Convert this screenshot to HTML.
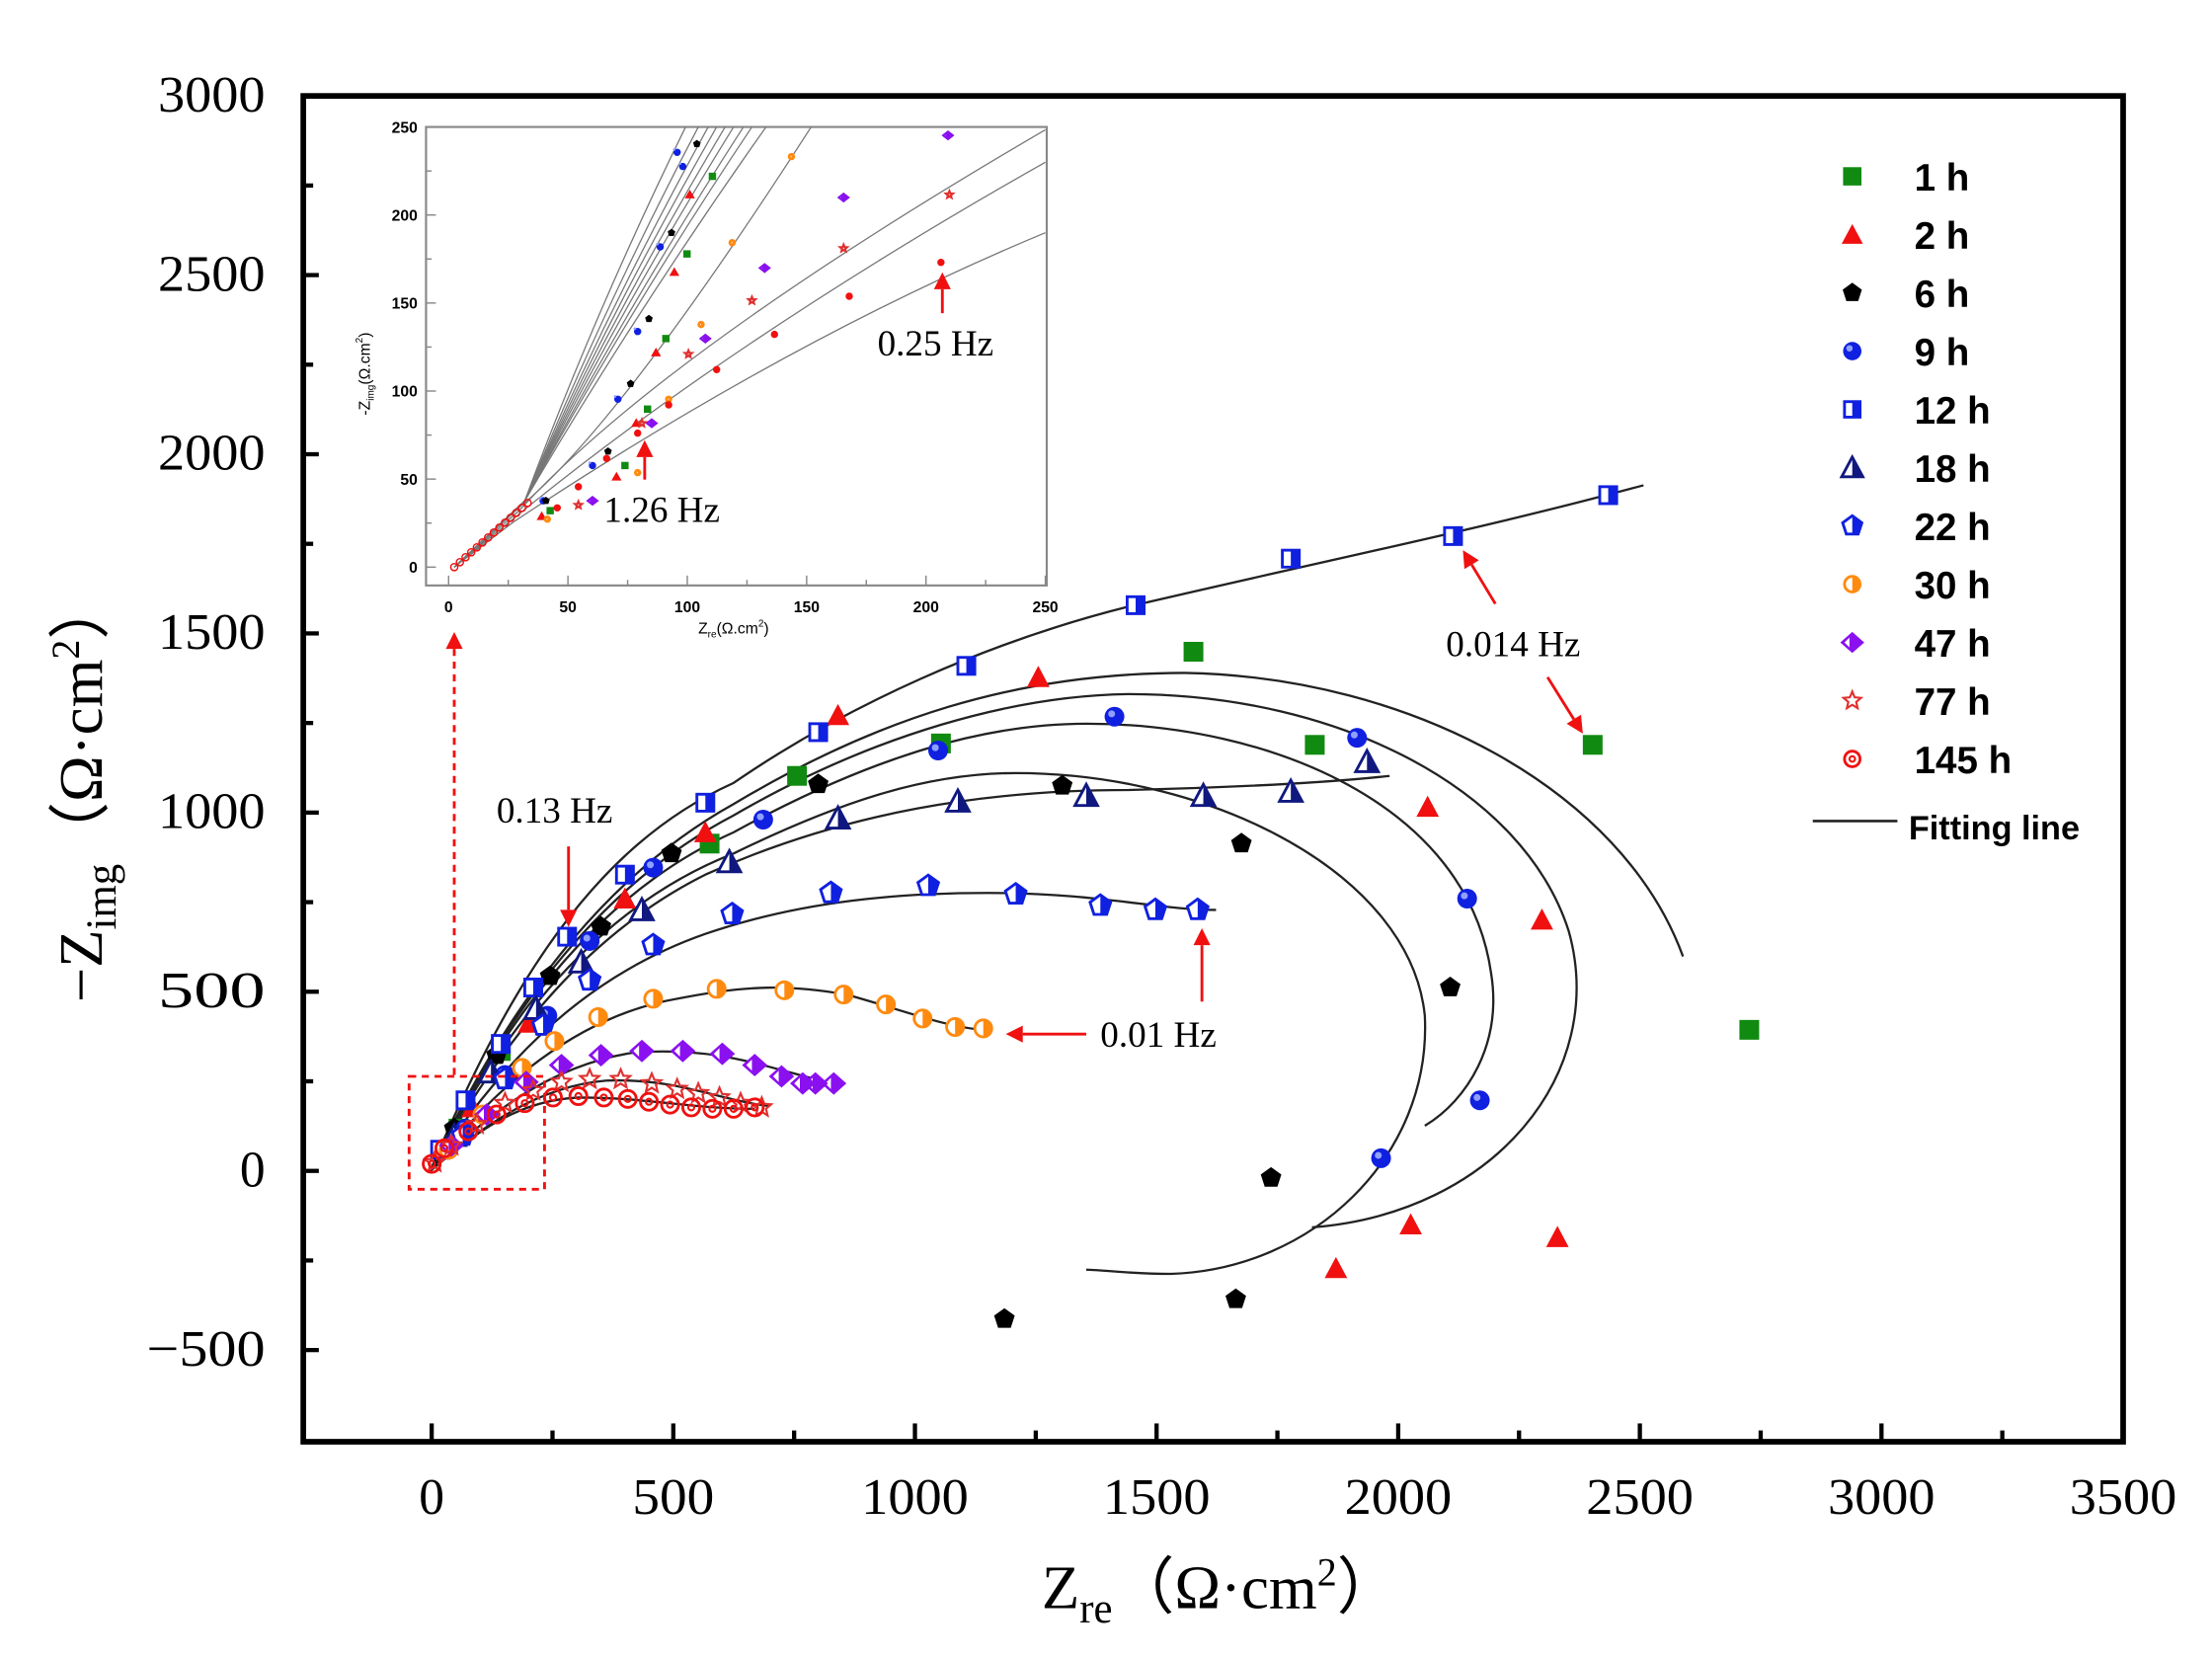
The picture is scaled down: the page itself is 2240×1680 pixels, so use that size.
<!DOCTYPE html>
<html><head><meta charset="utf-8"><style>
html,body{margin:0;padding:0;background:#fff;}
svg{display:block;}
</style></head><body>
<svg id="s" width="2240" height="1680" viewBox="0 0 1568 1176" xmlns="http://www.w3.org/2000/svg">
<rect x="0" y="0" width="1568" height="1176" fill="#fff"/>
<g id="g"></g>
</svg>
<script>
const g=document.getElementById('g');
let out='';
function add(s){out+=s;}
add('<rect x="215" y="68" width="1290" height="954" fill="none" stroke="#000" stroke-width="4"/>');
for(let v=-500;v<=3000;v+=250){const y=830-v*0.254;const L=(v%500==0)?11:7;add(`<line x1="215" y1="${y}" x2="${215+L}" y2="${y}" stroke="#000" stroke-width="3"/>`);}
for(let v=-500;v<=3000;v+=500){const y=830-v*0.254;add(`<text x="188" y="${y+11}" font-family="Liberation Serif, serif" font-size="36" text-anchor="end" textLength="${v==0?18:(v<0?84:76)}" lengthAdjust="spacingAndGlyphs">${v<0?'\u2212500':v}</text>`);}
for(let v=0;v<=3250;v+=250){const x=306+v*0.34257;const L=(v%500==0)?13:8;add(`<line x1="${x}" y1="1022" x2="${x}" y2="${1022-L}" stroke="#000" stroke-width="3"/>`);}
for(let v=0;v<=3500;v+=500){const x=306+v*0.34257;const tl=v==0?18:(v<1000?58:76);add(`<text x="${x-tl/2}" y="1073" font-family="Liberation Serif, serif" font-size="36" textLength="${tl}" lengthAdjust="spacingAndGlyphs">${v}</text>`);}
add('<text x="865" y="1140" font-family="Liberation Serif, serif" font-size="44" text-anchor="middle">Z<tspan font-size="30" dy="10">re</tspan><tspan dy="-10">（Ω·cm</tspan><tspan font-size="28" dy="-16">2</tspan><tspan dy="16">）</tspan></text>');
add('<text transform="translate(72,560) rotate(-90)" font-family="Liberation Serif, serif" font-size="44" text-anchor="middle">−Z<tspan font-size="30" dy="10">img</tspan><tspan dy="-10">（Ω·cm</tspan><tspan font-size="28" dy="-16">2</tspan><tspan dy="16">）</tspan></text>');

function mk(type,x,y,s){
 s=s||7;
 switch(type){
 case 'sq': return `<rect x="${x-s}" y="${y-s}" width="${2*s}" height="${2*s}" fill="#118a11"/>`;
 case 'tri': return `<polygon points="${x},${y-s-1} ${x-s-1},${y+s} ${x+s+1},${y+s}" fill="#f01010"/>`;
 case 'pent': {let p=[];for(let i=0;i<5;i++){const a=-Math.PI/2+i*2*Math.PI/5;p.push((x+s*1.1*Math.cos(a)).toFixed(1)+','+(y+s*1.1*Math.sin(a)).toFixed(1));}return `<polygon points="${p.join(' ')}" fill="#000"/>`;}
 case 'sph': return `<circle cx="${x}" cy="${y}" r="${s}" fill="#1020e0"/><circle cx="${x-2}" cy="${y-2}" r="${s*0.35}" fill="#8fa0ff"/>`;
 case 'hsq': return `<rect x="${x-s+1}" y="${y-s+1}" width="${2*s-2}" height="${2*s-2}" fill="#fff" stroke="#1020e0" stroke-width="2"/><rect x="${x}" y="${y-s+1}" width="${s-1}" height="${2*s-2}" fill="#1020e0"/>`;
 case 'htri': return `<polygon points="${x},${y-s-1} ${x-s-1},${y+s} ${x+s+1},${y+s}" fill="#fff" stroke="#101880" stroke-width="2"/><polygon points="${x},${y-s-1} ${x},${y+s} ${x+s+1},${y+s}" fill="#101880"/>`;
 case 'hpent': {let p=[];for(let i=0;i<5;i++){const a=-Math.PI/2+i*2*Math.PI/5;p.push((x+s*1.1*Math.cos(a)).toFixed(1)+','+(y+s*1.1*Math.sin(a)).toFixed(1));}return `<polygon points="${p.join(' ')}" fill="#fff" stroke="#1020e0" stroke-width="2"/><path d="M${x},${y-s*1.1} L${x+s*1.05},${y-s*0.34} L${x+s*0.65},${y+s*0.9} L${x},${y+s*0.9}Z" fill="#1020e0"/>`;}
 case 'hcirc': return `<circle cx="${x}" cy="${y}" r="${s-1}" fill="#fff" stroke="#ff8a10" stroke-width="2"/><path d="M${x},${y-s+1} A${s-1},${s-1} 0 0 1 ${x},${y+s-1}Z" fill="#ff8a10"/>`;
 case 'dia': return `<polygon points="${x},${y-s-1} ${x+s+2},${y} ${x},${y+s+1} ${x-s-2},${y}" fill="#8a10f0"/><polygon points="${x-2},${y-s+3} ${x-2},${y+s-3} ${x-s+1},${y}" fill="#fff"/>`;
 case 'star': {let p=[];for(let i=0;i<10;i++){const a=-Math.PI/2+i*Math.PI/5;const r=i%2?s*0.45:s;p.push((x+r*Math.cos(a)).toFixed(1)+','+(y+r*Math.sin(a)).toFixed(1));}return `<polygon points="${p.join(' ')}" fill="none" stroke="#e03030" stroke-width="1.5"/>`;}
 case 'ocirc': return `<circle cx="${x}" cy="${y}" r="${s-1}" fill="none" stroke="#f01010" stroke-width="2"/><circle cx="${x}" cy="${y}" r="${s*0.3}" fill="none" stroke="#f01010" stroke-width="1.5"/>`;
 }
}
function curve(d,w,c){add(`<path d="${d}" fill="none" stroke="${c||'#222'}" stroke-width="${w||1.6}"/>`);}
curve('M305,830 C360,700 420,600 520,555 C600,500 700,455 800,430 C950,395 1050,375 1165,344');
curve('M305,830 C360,710 430,620 520,570 C620,510 720,477 840,477 C1000,480 1150,560 1193,678');
curve('M305,830 C360,712 430,625 520,578 C620,520 720,493 800,492 C950,492 1080,560 1112,660 C1140,760 1060,860 930,870');
curve('M305,830 C360,715 430,630 520,590 C620,535 700,513 770,513 C900,513 1040,570 1057,690 C1065,740 1040,780 1010,798');
curve('M305,830 C360,720 430,640 520,605 C600,566 660,548 720,548 C860,548 1000,620 1010,720 C1015,820 930,900 830,903 C800,903 780,900 770,900');
curve('M305,830 C360,730 420,660 500,620 C600,575 700,560 800,560 C880,558 940,555 985,550');
curve('M305,830 C360,745 420,690 500,662 C570,638 640,633 700,633 C780,633 820,645 862,645');
curve('M305,830 C350,770 410,720 480,708 C530,698 560,698 600,705 C640,716 670,728 697,730');
curve('M305,830 C345,790 390,755 450,746 C510,742 540,756 590,768');
curve('M305,830 C340,800 380,770 430,766 C480,764 510,780 545,784');
curve('M305,830 C335,805 365,780 410,778 C460,778 490,786 535,786');

const S={
sq:[[565,550],[503,598],[667,527],[846,462],[932,528],[1129,528],[1240,730],[355,745],[325,800]],
tri:[[594,507],[736,480],[1012,572],[1093,652],[1104,877],[1000,868],[947,899],[500,590],[443,637],[375,725],[335,785]],
pent:[[580,556],[476,605],[426,657],[753,557],[880,598],[1028,700],[901,835],[876,921],[712,935],[390,692],[352,748],[322,800]],
sph:[[665,532],[790,508],[962,523],[1040,637],[1049,780],[979,821],[541,581],[463,615],[418,667],[388,720],[358,762],[330,800]],
hsq:[[1140,351],[1030,380],[915,396],[805,429],[685,472],[580,519],[500,569],[443,620],[402,664],[378,700],[355,740],[330,780],[312,815]],
htri:[[969,540],[915,561],[853,564],[770,564],[679,568],[594,580],[517,611],[455,645],[412,682],[380,715],[348,760],[322,805]],
hpent:[[849,645],[819,645],[780,642],[720,634],[658,628],[589,633],[519,648],[463,670],[418,695],[385,727],[358,765],[328,805]],
hcirc:[[697,729],[677,728],[654,722],[628,712],[598,705],[556,702],[508,701],[463,708],[424,721],[393,738],[370,757],[342,790],[318,815]],
dia:[[591,768],[578,768],[569,768],[554,763],[535,755],[512,747],[484,745],[455,745],[426,748],[398,755],[373,767],[345,790],[320,812]],
star:[[540,785],[525,782],[510,778],[495,775],[480,772],[462,768],[440,765],[418,765],[398,767],[378,773],[358,782],[338,797],[320,812],[308,824]],
ocirc:[[535,785],[520,786],[505,786],[490,785],[475,783],[460,781],[445,779],[428,778],[410,777],[392,778],[372,782],[352,790],[332,802],[315,814],[306,825]]
};
for(const k in S){for(const p of S[k]) add(mk(k,p[0],p[1]));}

add('<rect x="302" y="90" width="440" height="325" fill="#fff" stroke="#888" stroke-width="1.5"/>');
function ix(v){return 318+v*1.692;} function iy(v){return 402-v*1.248;}
for(let v=0;v<=250;v+=50){add(`<text x="${ix(v)}" y="434" font-family="Liberation Sans, sans-serif" font-weight="bold" font-size="11" text-anchor="middle">${v}</text>`);add(`<text x="296" y="${iy(v)+4}" font-family="Liberation Sans, sans-serif" font-weight="bold" font-size="11" text-anchor="end">${v}</text>`);}
for(let v=0;v<=250;v+=25){add(`<line x1="${ix(v)}" y1="415" x2="${ix(v)}" y2="${v%50?411:408}" stroke="#888"/>`);add(`<line x1="302" y1="${iy(v)}" x2="${v%50?306:309}" y2="${iy(v)}" stroke="#888"/>`);}
add('<text x="520" y="449" font-family="Liberation Sans, sans-serif" font-size="11" text-anchor="middle">Z<tspan font-size="7" dy="3">re</tspan><tspan dy="-3">(Ω.cm</tspan><tspan font-size="7" dy="-5">2</tspan><tspan dy="5">)</tspan></text>');
add('<text transform="translate(262,265) rotate(-90)" font-family="Liberation Sans, sans-serif" font-size="11" text-anchor="middle">-Z<tspan font-size="7" dy="3">img</tspan><tspan dy="-3">(Ω.cm</tspan><tspan font-size="7" dy="-5">2</tspan><tspan dy="5">)</tspan></text>');
const tops=[[486,90],[495,90],[502,90],[508,90],[514,90],[520,90],[527,90],[533,90],[543,90]];
for(const t of tops) curve(`M322,402 L372,355 Q${(372+t[0])/2-8},${(355+t[1])/2} ${t[0]},${t[1]}`,0.9,'#777');
curve('M322,402 L370,358 Q440,300 575,90',0.9,'#777');
curve('M322,402 L368,362 Q470,250 741,92',0.9,'#777');
curve('M322,402 L366,366 Q520,240 741,115',0.9,'#777');
curve('M322,402 L364,370 Q560,240 741,165',0.9,'#777');
const ipts=[['sph',[[480,108],[484,118],[468,175],[452,235],[438,283],[420,330],[385,355]]],['pent',[[494,102],[476,165],[460,226],[447,272],[431,320],[387,355]]],
['sq',[[505,125],[487,180],[472,240],[459,290],[443,330],[390,362]]],['tri',[[489,138],[478,193],[465,250],[451,300],[437,338],[384,366]]],
['hcirc',[[561,111],[519,172],[497,230],[474,283],[452,335],[388,368]]],['dia',[[672,96],[598,140],[542,190],[500,240],[462,300],[420,355]]],
['star',[[673,138],[598,176],[533,213],[488,251],[455,300],[410,358]]],['ocirc',[[667,186],[602,210],[549,237],[508,262],[474,287],[452,307],[430,325],[410,345],[395,360]]]];
for(const [k,arr] of ipts){for(const p of arr) add(mk(k,p[0],p[1],2.6));}
for(let i=0;i<14;i++){const x=322+i*4,y=402-i*3.5;add(`<circle cx="${x}" cy="${y}" r="2.5" fill="none" stroke="#f01010" stroke-width="1"/>`);}
function arrow(x1,y1,x2,y2,w,dash){const a=Math.atan2(y2-y1,x2-x1);const L=12,W=6;const bx=x2-L*Math.cos(a),by=y2-L*Math.sin(a);
 add(`<line x1="${x1}" y1="${y1}" x2="${bx}" y2="${by}" stroke="#f01010" stroke-width="${w||2}" ${dash?'stroke-dasharray="5,4"':''}/>`);
 add(`<polygon points="${x2},${y2} ${bx+W*Math.sin(a)},${by-W*Math.cos(a)} ${bx-W*Math.sin(a)},${by+W*Math.cos(a)}" fill="#f01010"/>`);}
arrow(457,340,457,312);arrow(668,222,668,193);
add('<text x="428" y="370" font-family="Liberation Serif, serif" font-size="26">1.26 Hz</text>');
add('<text x="622" y="252" font-family="Liberation Serif, serif" font-size="26">0.25 Hz</text>');
add('<rect x="290" y="763" width="96" height="80" fill="none" stroke="#f01010" stroke-width="2" stroke-dasharray="5,4"/>');
arrow(322,762,322,448,2,true);
arrow(403,600,403,657);
arrow(770,733,713,733);
arrow(852,710,852,658);
arrow(1097,480,1122,520);
arrow(1060,428,1037,390);
add('<text x="352" y="583" font-family="Liberation Serif, serif" font-size="26">0.13 Hz</text>');
add('<text x="780" y="742" font-family="Liberation Serif, serif" font-size="26">0.01 Hz</text>');
add('<text x="1025" y="465" font-family="Liberation Serif, serif" font-size="26">0.014 Hz</text>');
const leg=[['sq','1 h'],['tri','2 h'],['pent','6 h'],['sph','9 h'],['hsq','12 h'],['htri','18 h'],['hpent','22 h'],['hcirc','30 h'],['dia','47 h'],['star','77 h'],['ocirc','145 h']];
leg.forEach((l,i)=>{const y=125+i*41.3;add(mk(l[0],1313,y,6.5));add(`<text x="1357" y="${y+10}" font-family="Liberation Sans, sans-serif" font-weight="bold" font-size="27">${l[1]}</text>`);});
add('<line x1="1285" y1="582" x2="1345" y2="582" stroke="#222" stroke-width="1.8"/>');
add('<text x="1353" y="595" font-family="Liberation Sans, sans-serif" font-weight="bold" font-size="24">Fitting line</text>');
g.innerHTML=out;
</script>
</body></html>
